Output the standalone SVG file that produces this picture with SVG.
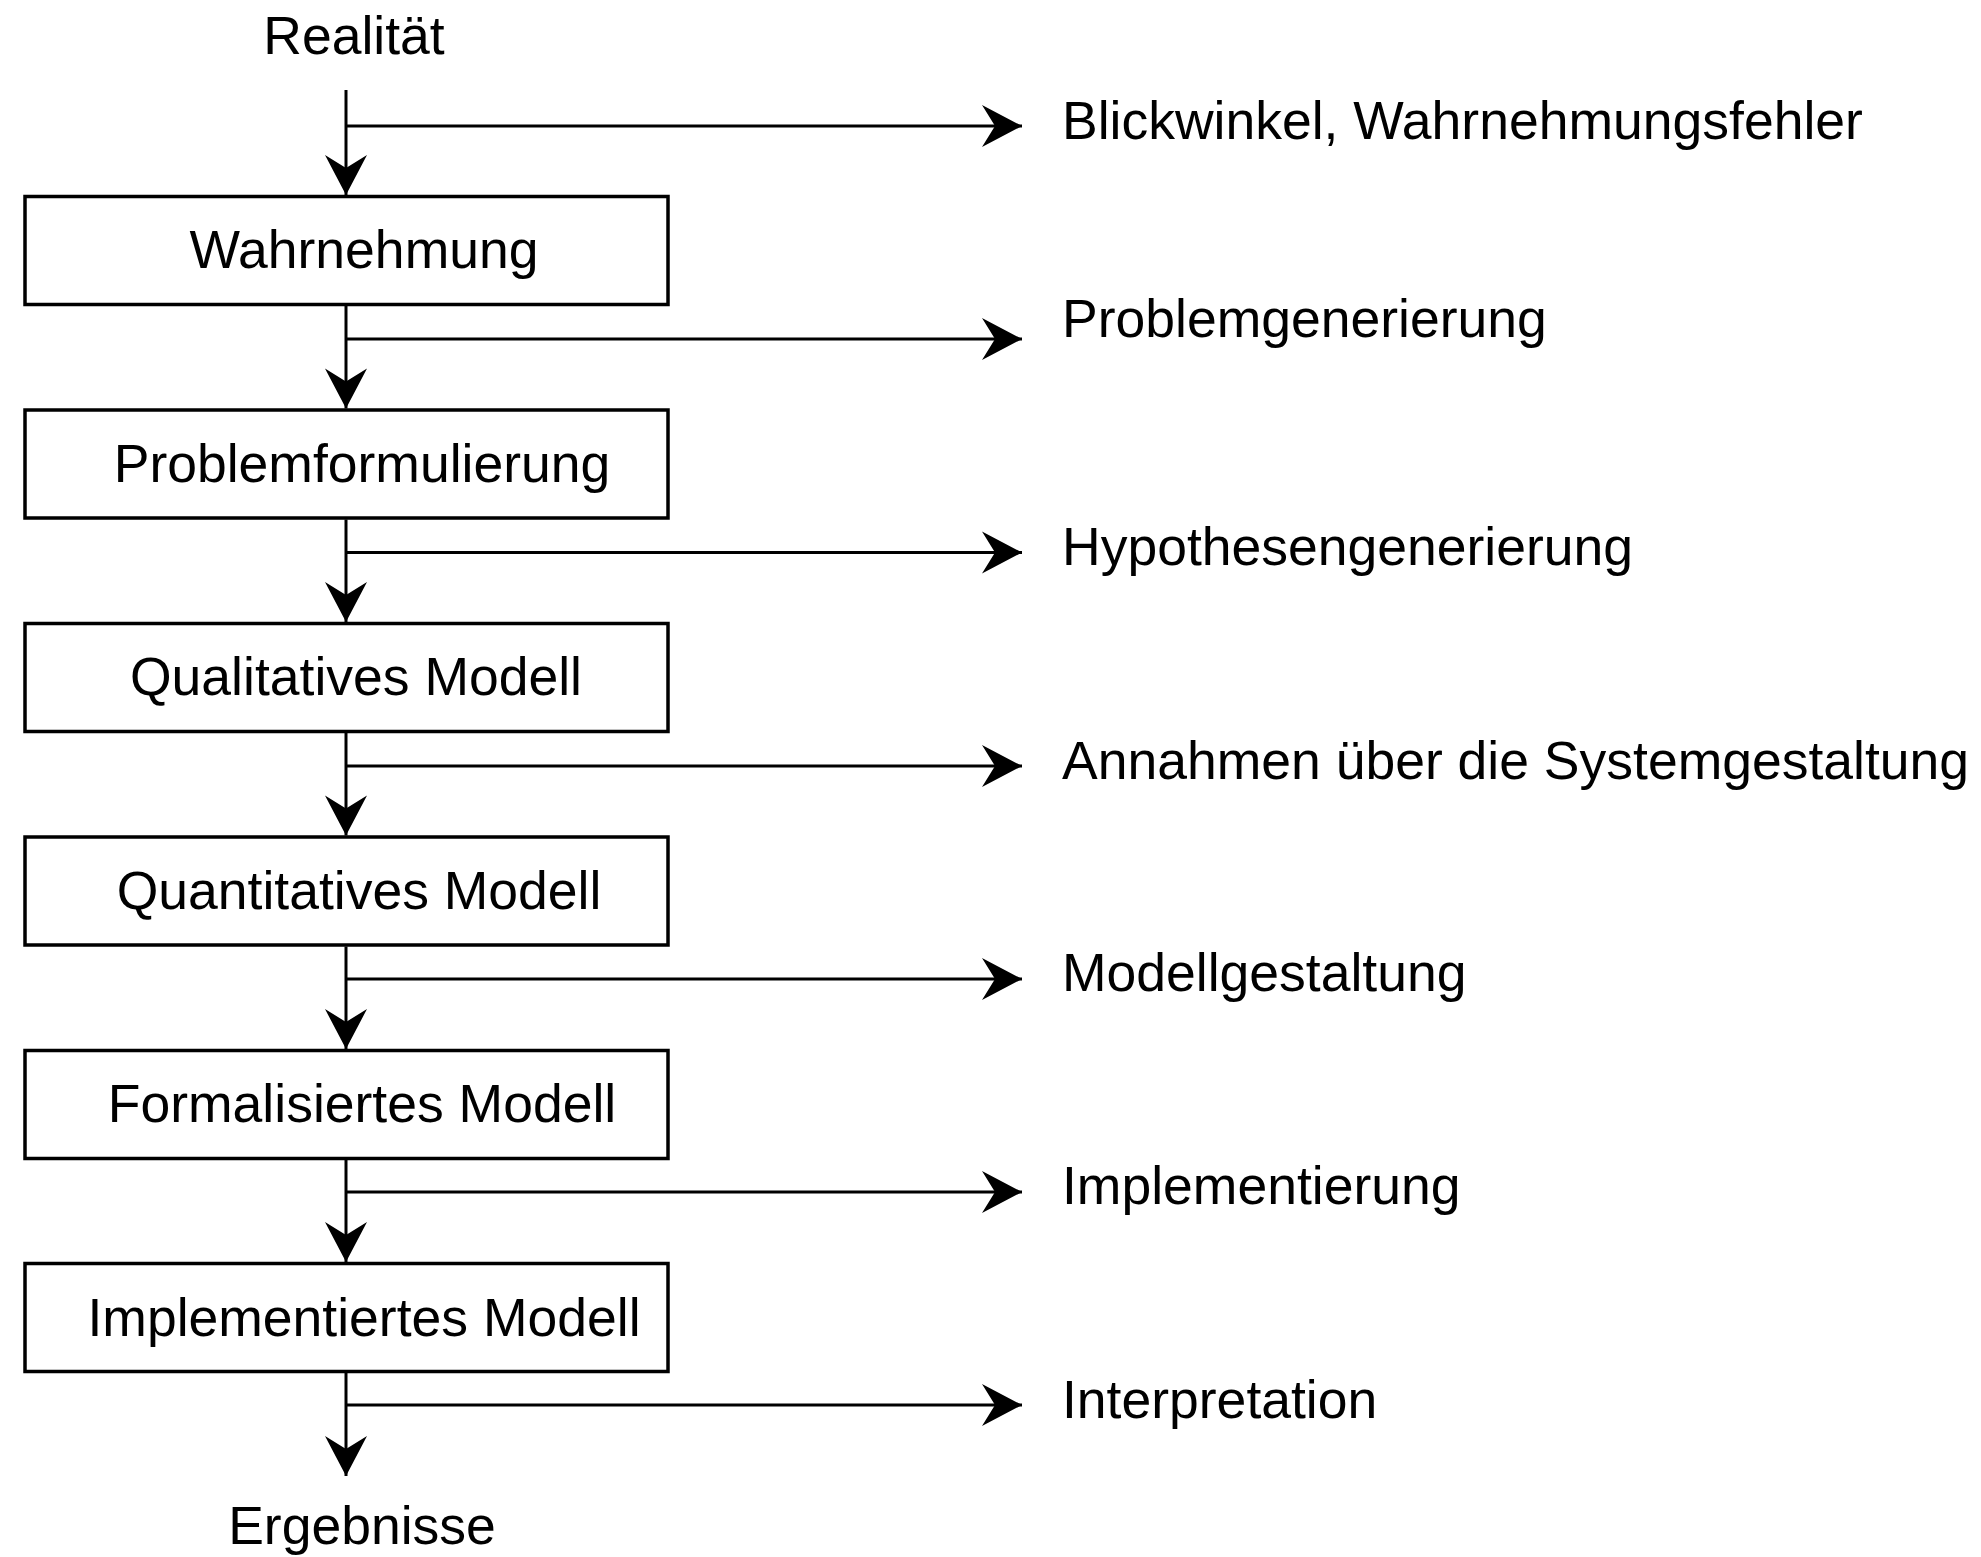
<svg xmlns="http://www.w3.org/2000/svg" width="1981" height="1557" viewBox="0 0 1981 1557">
<style>
.box{fill:#fff;stroke:#000;stroke-width:3.5}
.ln{fill:none;stroke:#000;stroke-width:3}
text{font-family:"Liberation Sans",Arial,sans-serif;font-size:53.5px;fill:#000}
.c{text-anchor:middle}
</style>
<defs>
<marker id="ah" markerUnits="userSpaceOnUse" viewBox="-41 -22 42 44" refX="0" refY="0" markerWidth="42" markerHeight="44" orient="auto">
<path d="M0,0 L-40,-21 L-27,0 L-40,21 Z" fill="#000"/>
</marker>
</defs>
<rect width="1981" height="1557" fill="#fff"/>
<g id="connectors">
<line class="ln" x1="346" y1="90" x2="346" y2="195" marker-end="url(#ah)"/>
<line class="ln" x1="346" y1="306" x2="346" y2="408.5" marker-end="url(#ah)"/>
<line class="ln" x1="346" y1="519.5" x2="346" y2="622" marker-end="url(#ah)"/>
<line class="ln" x1="346" y1="733" x2="346" y2="835.5" marker-end="url(#ah)"/>
<line class="ln" x1="346" y1="946.5" x2="346" y2="1049" marker-end="url(#ah)"/>
<line class="ln" x1="346" y1="1160" x2="346" y2="1262" marker-end="url(#ah)"/>
<line class="ln" x1="346" y1="1373" x2="346" y2="1476" marker-end="url(#ah)"/>
<line class="ln" x1="346" y1="126" x2="1022" y2="126" marker-end="url(#ah)"/>
<line class="ln" x1="346" y1="339" x2="1022" y2="339" marker-end="url(#ah)"/>
<line class="ln" x1="346" y1="552.5" x2="1022" y2="552.5" marker-end="url(#ah)"/>
<line class="ln" x1="346" y1="766" x2="1022" y2="766" marker-end="url(#ah)"/>
<line class="ln" x1="346" y1="979" x2="1022" y2="979" marker-end="url(#ah)"/>
<line class="ln" x1="346" y1="1192" x2="1022" y2="1192" marker-end="url(#ah)"/>
<line class="ln" x1="346" y1="1405" x2="1022" y2="1405" marker-end="url(#ah)"/>
</g>
<g id="realitaet"><text class="c" x="354" y="54">Realität</text></g>
<g id="wahrnehmung"><rect class="box" x="25" y="196.5" width="643" height="108"/><text class="c" x="364" y="268">Wahrnehmung</text></g>
<g id="problemformulierung"><rect class="box" x="25" y="410" width="643" height="108"/><text class="c" x="362" y="481.5">Problemformulierung</text></g>
<g id="qualitatives"><rect class="box" x="25" y="623.5" width="643" height="108"/><text class="c" x="356" y="695">Qualitatives Modell</text></g>
<g id="quantitatives"><rect class="box" x="25" y="837" width="643" height="108"/><text class="c" x="359" y="908.5">Quantitatives Modell</text></g>
<g id="formalisiertes"><rect class="box" x="25" y="1050.5" width="643" height="108"/><text class="c" x="362" y="1122">Formalisiertes Modell</text></g>
<g id="implementiertes"><rect class="box" x="25" y="1263.5" width="643" height="108"/><text class="c" x="364" y="1335.5">Implementiertes Modell</text></g>
<g id="ergebnisse"><text class="c" x="362" y="1544">Ergebnisse</text></g>
<g id="labels">
<text x="1062" y="139">Blickwinkel, Wahrnehmungsfehler</text>
<text x="1062" y="337">Problemgenerierung</text>
<text x="1062" y="565">Hypothesengenerierung</text>
<text x="1062" y="779">Annahmen über die Systemgestaltung</text>
<text x="1062" y="991">Modellgestaltung</text>
<text x="1062" y="1204">Implementierung</text>
<text x="1062" y="1418">Interpretation</text>
</g>
</svg>
